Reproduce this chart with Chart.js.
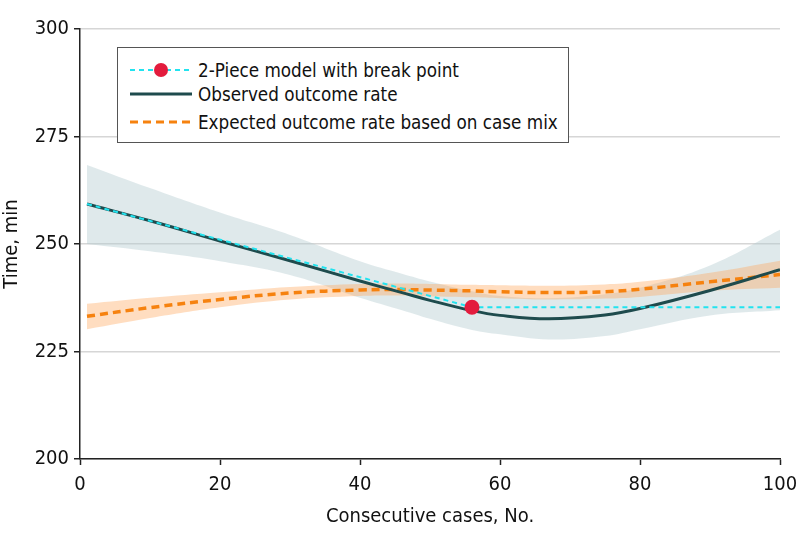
<!DOCTYPE html>
<html>
<head>
<meta charset="utf-8">
<script src="https://cdn.jsdelivr.net/npm/chart.js@4"></script>
<style>
  body { margin: 0; background: #fff; }
  #wrap { position: relative; width: 798px; height: 545px; }
  #legend {
    position: absolute; left: 117px; top: 47px; width: 450px; height: 94px;
    border: 1.5px solid #555; background: #fff;
    font-family: "Liberation Sans Narrow", "DejaVu Sans Condensed", "Roboto", sans-serif;
    font-size: 18.7px; color: #111;
  }
  .row { position: absolute; left: 12px; height: 24px; display: flex; align-items: center; }
  .row svg { margin-right: 6px; }
</style>
</head>
<body>
<div id="wrap">
  <canvas id="myChart" width="798" height="545"></canvas>
  <div id="legend">
    <div class="row" style="top:10px">
      <svg width="62" height="20"><line x1="0" y1="10" x2="62" y2="10" stroke="#22e3ef" stroke-width="2" stroke-dasharray="5,4"/><circle cx="31" cy="10" r="7" fill="#e31c3d"/></svg>
      <span>2-Piece model with break point</span>
    </div>
    <div class="row" style="top:34px">
      <svg width="62" height="20"><line x1="0" y1="10" x2="62" y2="10" stroke="#1e4b4d" stroke-width="3"/></svg>
      <span>Observed outcome rate</span>
    </div>
    <div class="row" style="top:62px">
      <svg width="62" height="20"><line x1="0" y1="10" x2="62" y2="10" stroke="#f6820f" stroke-width="3" stroke-dasharray="8,5"/></svg>
      <span>Expected outcome rate based on case mix</span>
    </div>
  </div>
</div>
<script>
const cases = [1, 10, 20, 30, 40, 46, 50, 56, 60, 67, 75, 80, 90, 100];

const observed = [259.3, 255.4, 250.7, 246.1, 241.4, 238.7, 236.9, 234.5, 233.4, 232.6, 233.5, 235.0, 239.2, 244.0];
const observedUpper = [268.4, 263.0, 257.3, 252.1, 246.0, 243.1, 241.3, 239.0, 237.9, 237.4, 238.3, 239.8, 245.0, 253.3];
const observedLower = [250.0, 248.3, 246.0, 242.8, 237.5, 234.6, 232.6, 230.0, 229.0, 227.8, 228.6, 230.2, 233.4, 234.6];

const expected = [233.2, 235.2, 237.1, 238.6, 239.3, 239.4, 239.3, 239.1, 238.9, 238.7, 238.9, 239.5, 241.2, 242.9];
const expectedUpper = [236.1, 237.5, 238.8, 240.0, 240.7, 240.8, 240.7, 240.5, 240.4, 240.3, 240.6, 241.2, 243.3, 246.1];
const expectedLower = [230.2, 232.8, 235.3, 237.1, 237.9, 238.0, 237.8, 237.6, 237.4, 237.1, 237.3, 237.7, 239.1, 239.8];

// 2-piece model
const pieceCases = [1, 56, 100];
const pieceValues = [259.3, 235.3, 235.3];
const breakCase = 56;
const breakValue = 235.3;

const xTicks = [0, 20, 40, 60, 80, 100];
const yTicks = [200, 225, 250, 275, 300];

function pts(xs, ys) {
  return xs.map((x, i) => ({ x: x, y: ys[i] }));
}

const FONT = "'Liberation Sans Narrow', 'DejaVu Sans Condensed', Roboto, sans-serif";

const ctx = document.getElementById('myChart').getContext('2d');
const myChart = new Chart(ctx, {
  type: 'line',
  data: {
    datasets: [
      {
        label: 'Break point',
        data: [{ x: breakCase, y: breakValue }],
        showLine: false,
        pointRadius: 7.5,
        pointBackgroundColor: '#e31c3d',
        pointBorderWidth: 0,
        order: 0
      },
      {
        label: '2-Piece model with break point',
        data: pts(pieceCases, pieceValues),
        borderColor: '#22e3ef',
        borderWidth: 2,
        borderDash: [5, 4],
        pointRadius: 0,
        tension: 0,
        order: 1
      },
      {
        label: 'Observed outcome rate',
        data: pts(cases, observed),
        borderColor: '#1e4b4d',
        borderWidth: 3,
        pointRadius: 0,
        tension: 0.4,
        order: 2
      },
      {
        label: 'Expected outcome rate based on case mix',
        data: pts(cases, expected),
        borderColor: '#f6820f',
        borderWidth: 3.5,
        borderDash: [8, 5],
        pointRadius: 0,
        tension: 0.4,
        order: 3
      },
      {
        label: 'exp upper',
        data: pts(cases, expectedUpper),
        borderWidth: 0,
        pointRadius: 0,
        backgroundColor: 'rgba(255, 166, 90, 0.38)',
        fill: '+1',
        tension: 0.4,
        order: 4
      },
      {
        label: 'exp lower',
        data: pts(cases, expectedLower),
        borderWidth: 0,
        pointRadius: 0,
        fill: false,
        tension: 0.4,
        order: 5
      },
      {
        label: 'obs upper',
        data: pts(cases, observedUpper),
        borderWidth: 0,
        pointRadius: 0,
        backgroundColor: 'rgba(178, 203, 208, 0.42)',
        fill: '+1',
        tension: 0.4,
        order: 6
      },
      {
        label: 'obs lower',
        data: pts(cases, observedLower),
        borderWidth: 0,
        pointRadius: 0,
        fill: false,
        tension: 0.4,
        order: 7
      }
    ]
  },
  options: {
    responsive: false,
    animation: false,
    layout: { padding: { top: 29, right: 18, left: 0, bottom: 0 } },
    plugins: { legend: { display: false }, tooltip: { enabled: false } },
    scales: {
      x: {
        type: 'linear',
        min: 0, max: 100,
        afterBuildTicks: (s) => { s.ticks = xTicks.map(v => ({ value: v })); },
        afterFit: (s) => { s.height = 86; s.paddingLeft = 0; s.paddingRight = 0; },
        ticks: { color: '#111', font: { family: FONT, size: 20 }, padding: 8 },
        grid: { drawOnChartArea: false, tickLength: 6, tickColor: '#222', tickWidth: 1.5 },
        border: { color: '#222', width: 1.5 },
        title: { display: true, text: 'Consecutive cases, No.', color: '#111', font: { family: FONT, size: 20 }, padding: { top: 0, bottom: 16 } }
      },
      y: {
        min: 200, max: 300,
        afterBuildTicks: (s) => { s.ticks = yTicks.map(v => ({ value: v })); },
        afterFit: (s) => { s.width = 80; s.paddingTop = 0; s.paddingBottom = 0; },
        ticks: { color: '#111', font: { family: FONT, size: 20 }, padding: 5 },
        grid: { color: '#d6d6d6', lineWidth: 1.5, tickLength: 6, tickColor: '#222', tickWidth: 1.5 },
        border: { color: '#222', width: 1.5 },
        title: { display: true, text: 'Time, min', color: '#111', font: { family: FONT, size: 20 }, padding: 0 }
      }
    }
  }
});
</script>
</body>
</html>
